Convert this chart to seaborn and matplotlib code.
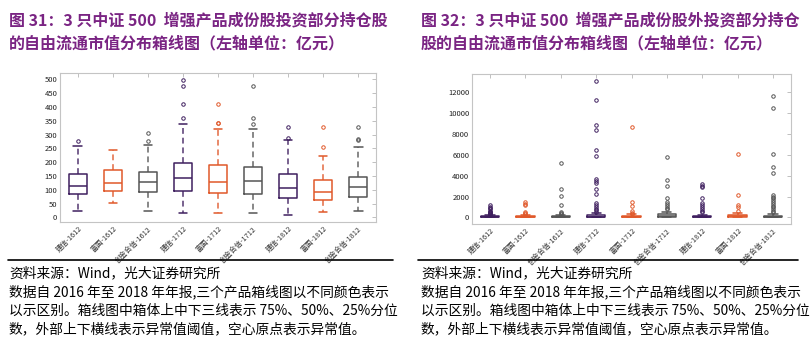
import matplotlib
matplotlib.use("Agg")
import matplotlib.pyplot as plt
from matplotlib.lines import Line2D
import pandas as pd
import seaborn as sns

# Category labels (product - report period)
labels = ["建信-1612", "富国-1612", "创金合信-1612",
          "建信-1712", "富国-1712", "创金合信-1712",
          "建信-1812", "富国-1812", "创金合信-1812"]
products = ["建信", "富国", "创金合信"] * 3
palette = {"建信": "#3f1f5f", "富国": "#e0582a", "创金合信": "#555555"}

# Constituent holdings: free-float market cap box statistics (亿元)
in_low = [22, 52, 22, 16, 16, 16, 10, 18, 24]
in_q1 = [83, 95, 91, 97, 89, 86, 69, 62, 75]
in_median = [112, 124, 127, 143, 129, 130, 107, 93, 109]
in_q3 = [157, 170, 163, 196, 188, 182, 156, 136, 147]
in_high = [258, 243, 261, 337, 319, 319, 279, 223, 254]
in_outliers = [[278], [], [278, 307], [359, 409, 475, 496],
               [341, 343, 409], [338, 359, 476], [289, 327],
               [254, 327], [280, 285, 327]]

# Non-constituent holdings: free-float market cap box statistics (亿元)
out_low = [2, 3, 2, 3, 3, 4, 2, 4, 2]
out_q1 = [20, 25, 22, 30, 25, 40, 20, 35, 25]
out_median = [40, 50, 45, 70, 55, 110, 45, 90, 60]
out_q3 = [95, 110, 100, 190, 130, 300, 110, 260, 160]
out_high = [200, 230, 210, 400, 280, 560, 240, 440, 340]
out_outliers = [
    [230, 280, 330, 400, 480, 560, 650, 760, 880, 1000, 1210],
    [300, 380, 480, 1150, 1250, 1440],
    [320, 380, 510, 1220, 2050, 2750, 5180],
    [540, 700, 830, 990, 1150, 1410, 2240, 2690, 3260, 3490, 3650,
     5920, 6430, 8420, 8830, 11300, 13100],
    [320, 440, 600, 1050, 1430, 8720],
    [760, 920, 1080, 1240, 1490, 1870, 3040, 3550, 5830],
    [480, 630, 790, 980, 1170, 1330, 1870, 2920, 3040, 3170],
    [650, 1010, 1140, 2190, 6050],
    [480, 630, 790, 950, 1110, 1270, 1460, 1650, 1870, 2000, 2120,
     4280, 4850, 6050, 10490, 11630],
]

title_left = "图 31：3 只中证 500  增强产品成份股投资部分持仓股\n的自由流通市值分布箱线图（左轴单位：亿元）"
title_right = "图 32：3 只中证 500  增强产品成份股外投资部分持仓\n股的自由流通市值分布箱线图（左轴单位：亿元）"
source = "资料来源：Wind，光大证券研究所"
note = ["数据自 2016 年至 2018 年年报,三个产品箱线图以不同颜色表示",
        "以示区别。箱线图中箱体上中下三线表示 75%、50%、25%分位",
        "数，外部上下横线表示异常值阈值，空心原点表示异常值。"]


def box_values(lo, q1, med, q3, hi, out):
    """Sample whose quartiles, whiskers and fliers equal the given summary."""
    k = len(out) + 1
    return [lo] + [q1] * k + [med] * k + [q3] * k + [hi] + list(out)


def frame(lo, q1, med, q3, hi, outs):
    rows = []
    for i, lab in enumerate(labels):
        for v in box_values(lo[i], q1[i], med[i], q3[i], hi[i], outs[i]):
            rows.append((lab, products[i], v))
    return pd.DataFrame(rows, columns=["label", "product", "value"])


sns.set_theme(style="white")
plt.rcParams["font.family"] = ["Noto Sans CJK SC", "DejaVu Sans"]

W, H = 810, 344
fig = plt.figure(figsize=(W / 100, H / 100), dpi=100)


def px_axes(x0, y0, x1, y1):
    return fig.add_axes([x0 / W, 1 - y1 / H, (x1 - x0) / W, (y1 - y0) / H])


def draw(ax, df, ylim, yticks, width):
    sns.boxplot(data=df, x="label", y="value", hue="product", order=labels,
                hue_order=["建信", "富国", "创金合信"], palette=palette,
                saturation=1, fill=False, dodge=False, width=width, whis=1.5,
                linewidth=1.1, legend=False, ax=ax,
                whiskerprops=dict(linestyle=(0, (3, 2)), linewidth=1.4,
                                  alpha=0.7),
                flierprops=dict(marker="o", markerfacecolor="none",
                                markersize=2.5, markeredgewidth=0.7))
    for ln in ax.lines:
        if ln.get_marker() == "o":
            ln.set_markerfacecolor("none")
    ax.set_xlim(-0.51, 8.51)
    ax.set_ylim(*ylim)
    ax.set_yticks(yticks)
    ax.set_xlabel("")
    ax.set_ylabel("")
    ax.set_xticks(range(len(labels)))
    ax.set_xticklabels(labels, rotation=45, ha="right", rotation_mode="anchor",
                       fontsize=5.2, color="#333333")
    ax.tick_params(axis="y", labelsize=5.5, labelcolor="#222222")
    ax.tick_params(direction="in", length=3, width=0.6, color="#b5b5b5",
                   top=True, right=True, pad=2)
    for sp in ax.spines.values():
        sp.set_color("#c4c4c4")
        sp.set_linewidth(0.8)


ax1 = px_axes(60, 73, 376, 222)
draw(ax1, frame(in_low, in_q1, in_median, in_q3, in_high, in_outliers),
     (-17, 523), range(0, 501, 50), 0.5)

ax2 = px_axes(472, 74, 791, 224)
draw(ax2, frame(out_low, out_q1, out_median, out_q3, out_high, out_outliers),
     (-640, 13760), range(0, 12001, 2000), 0.52)

purple = "#7a2483"
for x, title in [(9, title_left), (421, title_right)]:
    fig.text(x / W, 1 - 12 / H, title, color=purple, fontsize=11.5,
             fontweight="bold", va="top", ha="left", linespacing=1.55)

for x0, x1, tx in [(8, 393, 9), (418, 798, 421)]:
    fig.add_artist(Line2D([x0 / W, x1 / W], [1 - 260 / H] * 2,
                          color="black", lw=1.2))
    fig.text(tx / W, 1 - 273 / H, source, fontsize=9.9, va="center",
             ha="left", color="black")
    for j, line in enumerate(note):
        fig.text(tx / W, 1 - (292 + 18.5 * j) / H, line, fontsize=9.9,
                 va="center", ha="left", color="black")

fig.savefig("out.png", dpi=100)
